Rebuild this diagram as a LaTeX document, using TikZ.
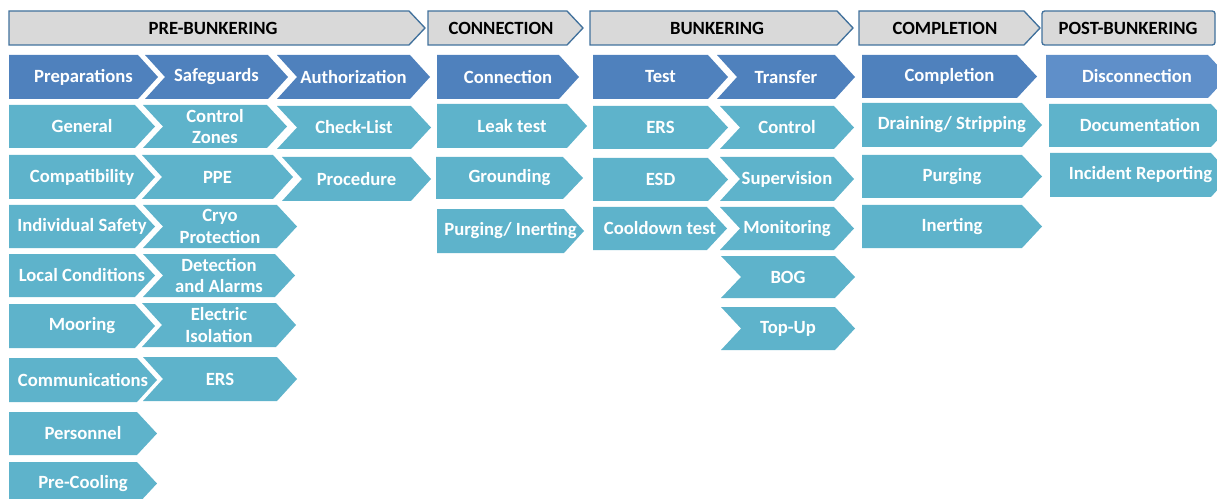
\documentclass[tikz,border=0pt]{standalone}
\usepackage{fontspec}
\setmainfont{Carlito}
\definecolor{hdrfill}{HTML}{D9D9D9}
\definecolor{hdrline}{HTML}{41719C}
\definecolor{darkblue}{HTML}{4F81BD}
\definecolor{midblue}{HTML}{5F8FC9}
\definecolor{teal}{HTML}{5EB3CB}
\newcommand{\pent}[7]{% style, name, x1, xbody, y1, y2, text
  \path[#1] (#3,#5) -- (#4,#5) -- ({#4+20},{(#5+#6)/2}) -- (#4,#6) -- (#3,#6) -- cycle;
  \node[lbl] (#2) at ({(#3+#4+20)/2},{(#5+#6)/2}) {#7};}
\newcommand{\chev}[7]{%
  \path[#1] (#3,#5) -- (#4,#5) -- ({#4+20},{(#5+#6)/2}) -- (#4,#6) -- (#3,#6) -- ({#3+20},{(#5+#6)/2}) -- cycle;
  \node[lbl] (#2) at ({(#3+#4+20)/2},{(#5+#6)/2}) {#7};}
\begin{document}
\begin{tikzpicture}[x=0.75pt,y=-0.75pt,
  lbl/.style={text=white,font=\fontsize{14}{16}\selectfont\bfseries,align=center,inner sep=0pt},
  hdr/.style={fill=hdrfill,draw=hdrline,line width=1pt},
  dk/.style={fill=darkblue},
  md/.style={fill=midblue},
  tl/.style={fill=teal}]
\useasboundingbox (0,0) rectangle (1217,499);
\clip (0,0) rectangle (1217,499);
% headers
\path[hdr] (9,11) -- (409,11) -- (425,28) -- (409,45) -- (9,45) -- cycle;
\node[lbl,text=black] (hpre) at (213,28) {PRE-BUNKERING};
\path[hdr] (428,11) -- (567,11) -- (583,28) -- (567,45) -- (428,45) -- cycle;
\node[lbl,text=black] (hcon) at (501,28) {CONNECTION};
\path[hdr] (590,11) -- (837,11) -- (853,28) -- (837,45) -- (590,45) -- cycle;
\node[lbl,text=black] (hbun) at (717,28) {BUNKERING};
\path[hdr] (859,11) -- (1024,11) -- (1040,28) -- (1024,45) -- (859,45) -- cycle;
\node[lbl,text=black] (hcom) at (945,28) {COMPLETION};
\path[hdr,rounded corners=2pt] (1042,11) rectangle (1215,45);
\node[lbl,text=black] (hpost) at (1128,28) {POST-BUNKERING};
% row 1
\pent{dk}{prep}{9}{138}{55}{99}{Preparations}
\chev{dk}{safe}{145}{268}{55}{99}{Safeguards}
\chev{dk}{auth}{277}{410}{55}{99}{Authorization}
\pent{dk}{conn}{437}{559}{55}{99}{Connection}
\pent{dk}{test}{593}{708}{55}{99}{Test}
\chev{dk}{trans}{717}{835}{55}{99}{Transfer}
\pent{dk}{compl}{862}{1017}{55}{98}{Completion}
\pent{md}{disc}{1046}{1208}{55}{98}{Disconnection}
% pre-bunkering column 1
\pent{tl}{gen}{9}{135}{105}{148}{General}
\pent{tl}{compat}{9}{135}{155}{199}{Compatibility}
\pent{tl}{indiv}{9}{135}{205}{248}{Individual Safety}
\pent{tl}{local}{9}{135}{254}{297}{Local Conditions}
\pent{tl}{moor}{9}{135}{304}{348}{Mooring}
\pent{tl}{comm}{9}{137}{358}{402}{Communications}
\pent{tl}{pers}{9}{137}{412}{455}{Personnel}
\pent{tl}{precool}{9}{137}{462}{505}{Pre-Cooling}
% pre-bunkering column 2
\chev{tl}{czones}{143}{267}{105}{148}{Control\\Zones}
\chev{tl}{ppe}{142}{273}{155}{199}{PPE}
\chev{tl}{cryo}{143}{277}{205}{248}{Cryo\\Protection}
\chev{tl}{detect}{143}{275}{254}{297}{Detection\\and Alarms}
\chev{tl}{elec}{142}{276}{303}{347}{Electric\\Isolation}
\chev{tl}{ers1}{143}{277}{357}{401}{ERS}
% pre-bunkering column 3
\chev{tl}{check}{277}{411}{106}{149}{Check-List}
\chev{tl}{proc}{282}{411}{157}{201}{Procedure}
% connection column
\pent{tl}{leak}{437}{567}{104}{148}{Leak test}
\pent{tl}{ground}{436}{563}{157}{199}{Grounding}
\pent{tl}{purgin}{437}{564}{209}{253}{Purging/ Inerting}
% bunkering column 1
\pent{tl}{ers2}{593}{708}{106}{149}{ERS}
\pent{tl}{esd}{593}{708}{158}{201}{ESD}
\pent{tl}{cool}{593}{707}{207}{250}{Cooldown test}
% bunkering column 2
\chev{tl}{ctrl}{720}{834}{106}{149}{Control}
\chev{tl}{superv}{720}{834}{157}{201}{Supervision}
\chev{tl}{monit}{720}{834}{207}{250}{Monitoring}
\chev{tl}{bog}{721}{835}{256}{298}{BOG}
\chev{tl}{topup}{721}{835}{307}{350}{Top-Up}
% completion column
\pent{tl}{drain}{862}{1022}{103}{147}{Draining/ Stripping}
\pent{tl}{purg}{862}{1022}{155}{198}{Purging}
\pent{tl}{inert}{862}{1022}{205}{248}{Inerting}
% post-bunkering column
\pent{tl}{doc}{1049}{1211}{104}{147}{Documentation}
\pent{tl}{incid}{1050}{1211}{153}{197}{Incident Reporting}
\end{tikzpicture}
\end{document}
